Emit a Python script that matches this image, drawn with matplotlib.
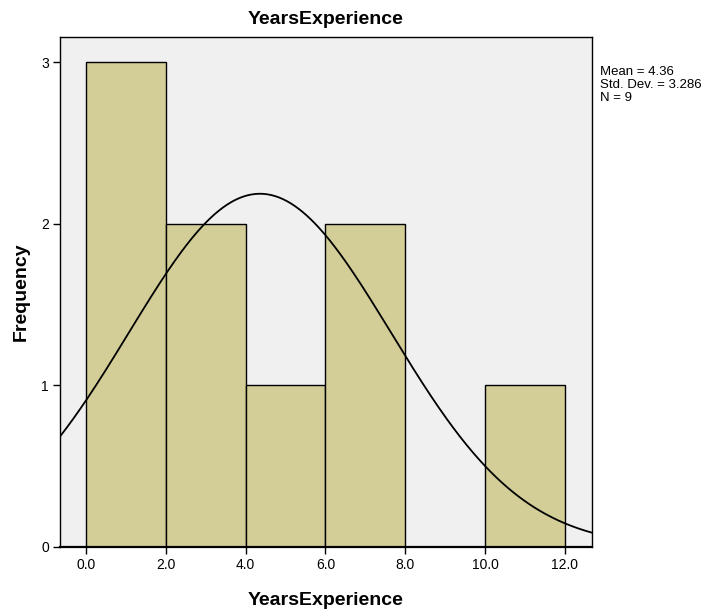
import numpy as np
import matplotlib
matplotlib.use("Agg")
import matplotlib.pyplot as plt

plt.rcParams['font.family'] = ['Liberation Sans', 'DejaVu Sans']

# Histogram of years of experience
bin_edges = [0.0, 2.0, 4.0, 6.0, 8.0, 10.0, 12.0]
counts = [3, 2, 1, 2, 0, 1]
tick_labels = ["0.0", "2.0", "4.0", "6.0", "8.0", "10.0", "12.0"]

mean = 4.36
std_dev = 3.286
n = 9

fig = plt.figure(figsize=(7.12, 6.11), dpi=100)
ax = fig.add_axes([60 / 712, 64 / 611, 532 / 712, 510 / 611])
ax.set_facecolor('#F0F0F0')

widths = np.diff(bin_edges)
ax.bar(bin_edges[:-1], counts, width=widths, align='edge',
       color='#D3CE97', edgecolor='black', linewidth=1.0, zorder=2)

# Normal curve scaled to the histogram
xlim = (-0.65, 12.68)
xs = np.linspace(xlim[0], xlim[1], 400)
bw = widths[0]
ys = n * bw / (std_dev * np.sqrt(2 * np.pi)) * np.exp(-0.5 * ((xs - mean) / std_dev) ** 2)
ax.plot(xs, ys, color='black', linewidth=1.3, zorder=3)

ax.set_xlim(*xlim)
ax.set_ylim(0, 3.155)
ax.set_xticks(bin_edges)
ax.set_xticklabels(tick_labels)
ax.set_yticks([0, 1, 2, 3])
ax.tick_params(axis='both', direction='out', length=5, width=1, labelsize=10, pad=3)
for s in ax.spines.values():
    s.set_linewidth(1.0)
    s.set_color('black')
ax.spines['bottom'].set_linewidth(1.6)

ax.set_title('YearsExperience', fontsize=14, fontweight='bold', pad=9)
ax.set_xlabel('YearsExperience', fontsize=14, fontweight='bold', labelpad=14)
ax.set_ylabel('Frequency', fontsize=14, fontweight='bold', labelpad=8)

fig.text(600 / 712, 1 - 66 / 611,
         f"Mean = {mean}\nStd. Dev. = {std_dev}\nN = {n}",
         fontsize=9.5, va='top', ha='left', linespacing=1.1)

fig.savefig('out.png', dpi=100)
